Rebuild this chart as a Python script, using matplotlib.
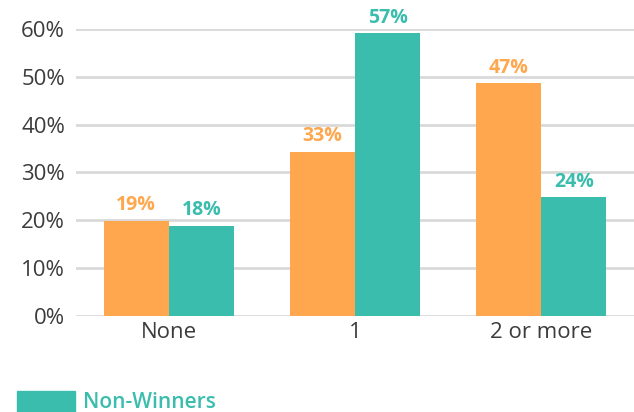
import matplotlib.pyplot as plt
import numpy as np
from matplotlib.patches import Rectangle

# data
categories = ["None", "1", "2 or more"]
winners = [19.8, 34.3, 48.7]
non_winners = [18.8, 59.2, 24.8]
winners_labels = ["19%", "33%", "47%"]
non_winners_labels = ["18%", "57%", "24%"]
y_ticks = [0, 10, 20, 30, 40, 50, 60]

ORANGE = "#FEA74E"
TEAL = "#3ABDAD"
GRID = "#D9D9D9"
TEXT = "#3C3C3C"

plt.rcParams["font.family"] = ["Open Sans", "DejaVu Sans"]

W, H = 634, 412
fig = plt.figure(figsize=(W / 100, H / 100), dpi=100)
ax = fig.add_axes([76 / W, (H - 315.5) / H, (W - 76) / W, (315.5 - 29.3) / H])

x = np.arange(len(categories))
width = 0.352
bars_w = ax.bar(x - width / 2, winners, width, color=ORANGE, zorder=3)
bars_n = ax.bar(x + width / 2, non_winners, width, color=TEAL, zorder=3)

for bars, labels, col in [(bars_w, winners_labels, ORANGE),
                          (bars_n, non_winners_labels, TEAL)]:
    for b, lab in zip(bars, labels):
        ax.annotate(lab, (b.get_x() + b.get_width() / 2, b.get_height()),
                    xytext=(0, 4), textcoords="offset points",
                    ha="center", va="bottom", color=col,
                    fontsize=14, fontweight="bold", annotation_clip=False)

ax.set_xlim(-0.5, 2.5)
ax.set_ylim(0, 60)
ax.set_yticks(y_ticks)
ax.set_yticklabels([f"{t}%" for t in y_ticks])
ax.set_xticks(x)
ax.set_xticklabels(categories)
ax.yaxis.grid(True, color=GRID, linewidth=2, zorder=0)
ax.set_axisbelow(True)
for s in ax.spines.values():
    s.set_visible(False)
ax.tick_params(axis="both", length=0, labelsize=16, labelcolor=TEXT)
ax.tick_params(axis="y", pad=8)
ax.tick_params(axis="x", pad=5)

# legend (only the visible entry)
fig.add_artist(Rectangle((17 / W, 0), 58 / W, 21 / H, color=TEAL,
                         transform=fig.transFigure))
fig.text(83 / W, 9 / H, "Non-Winners", color=TEAL, fontsize=15,
         fontweight="semibold", va="center", ha="left")

fig.savefig("out.png", dpi=100)
